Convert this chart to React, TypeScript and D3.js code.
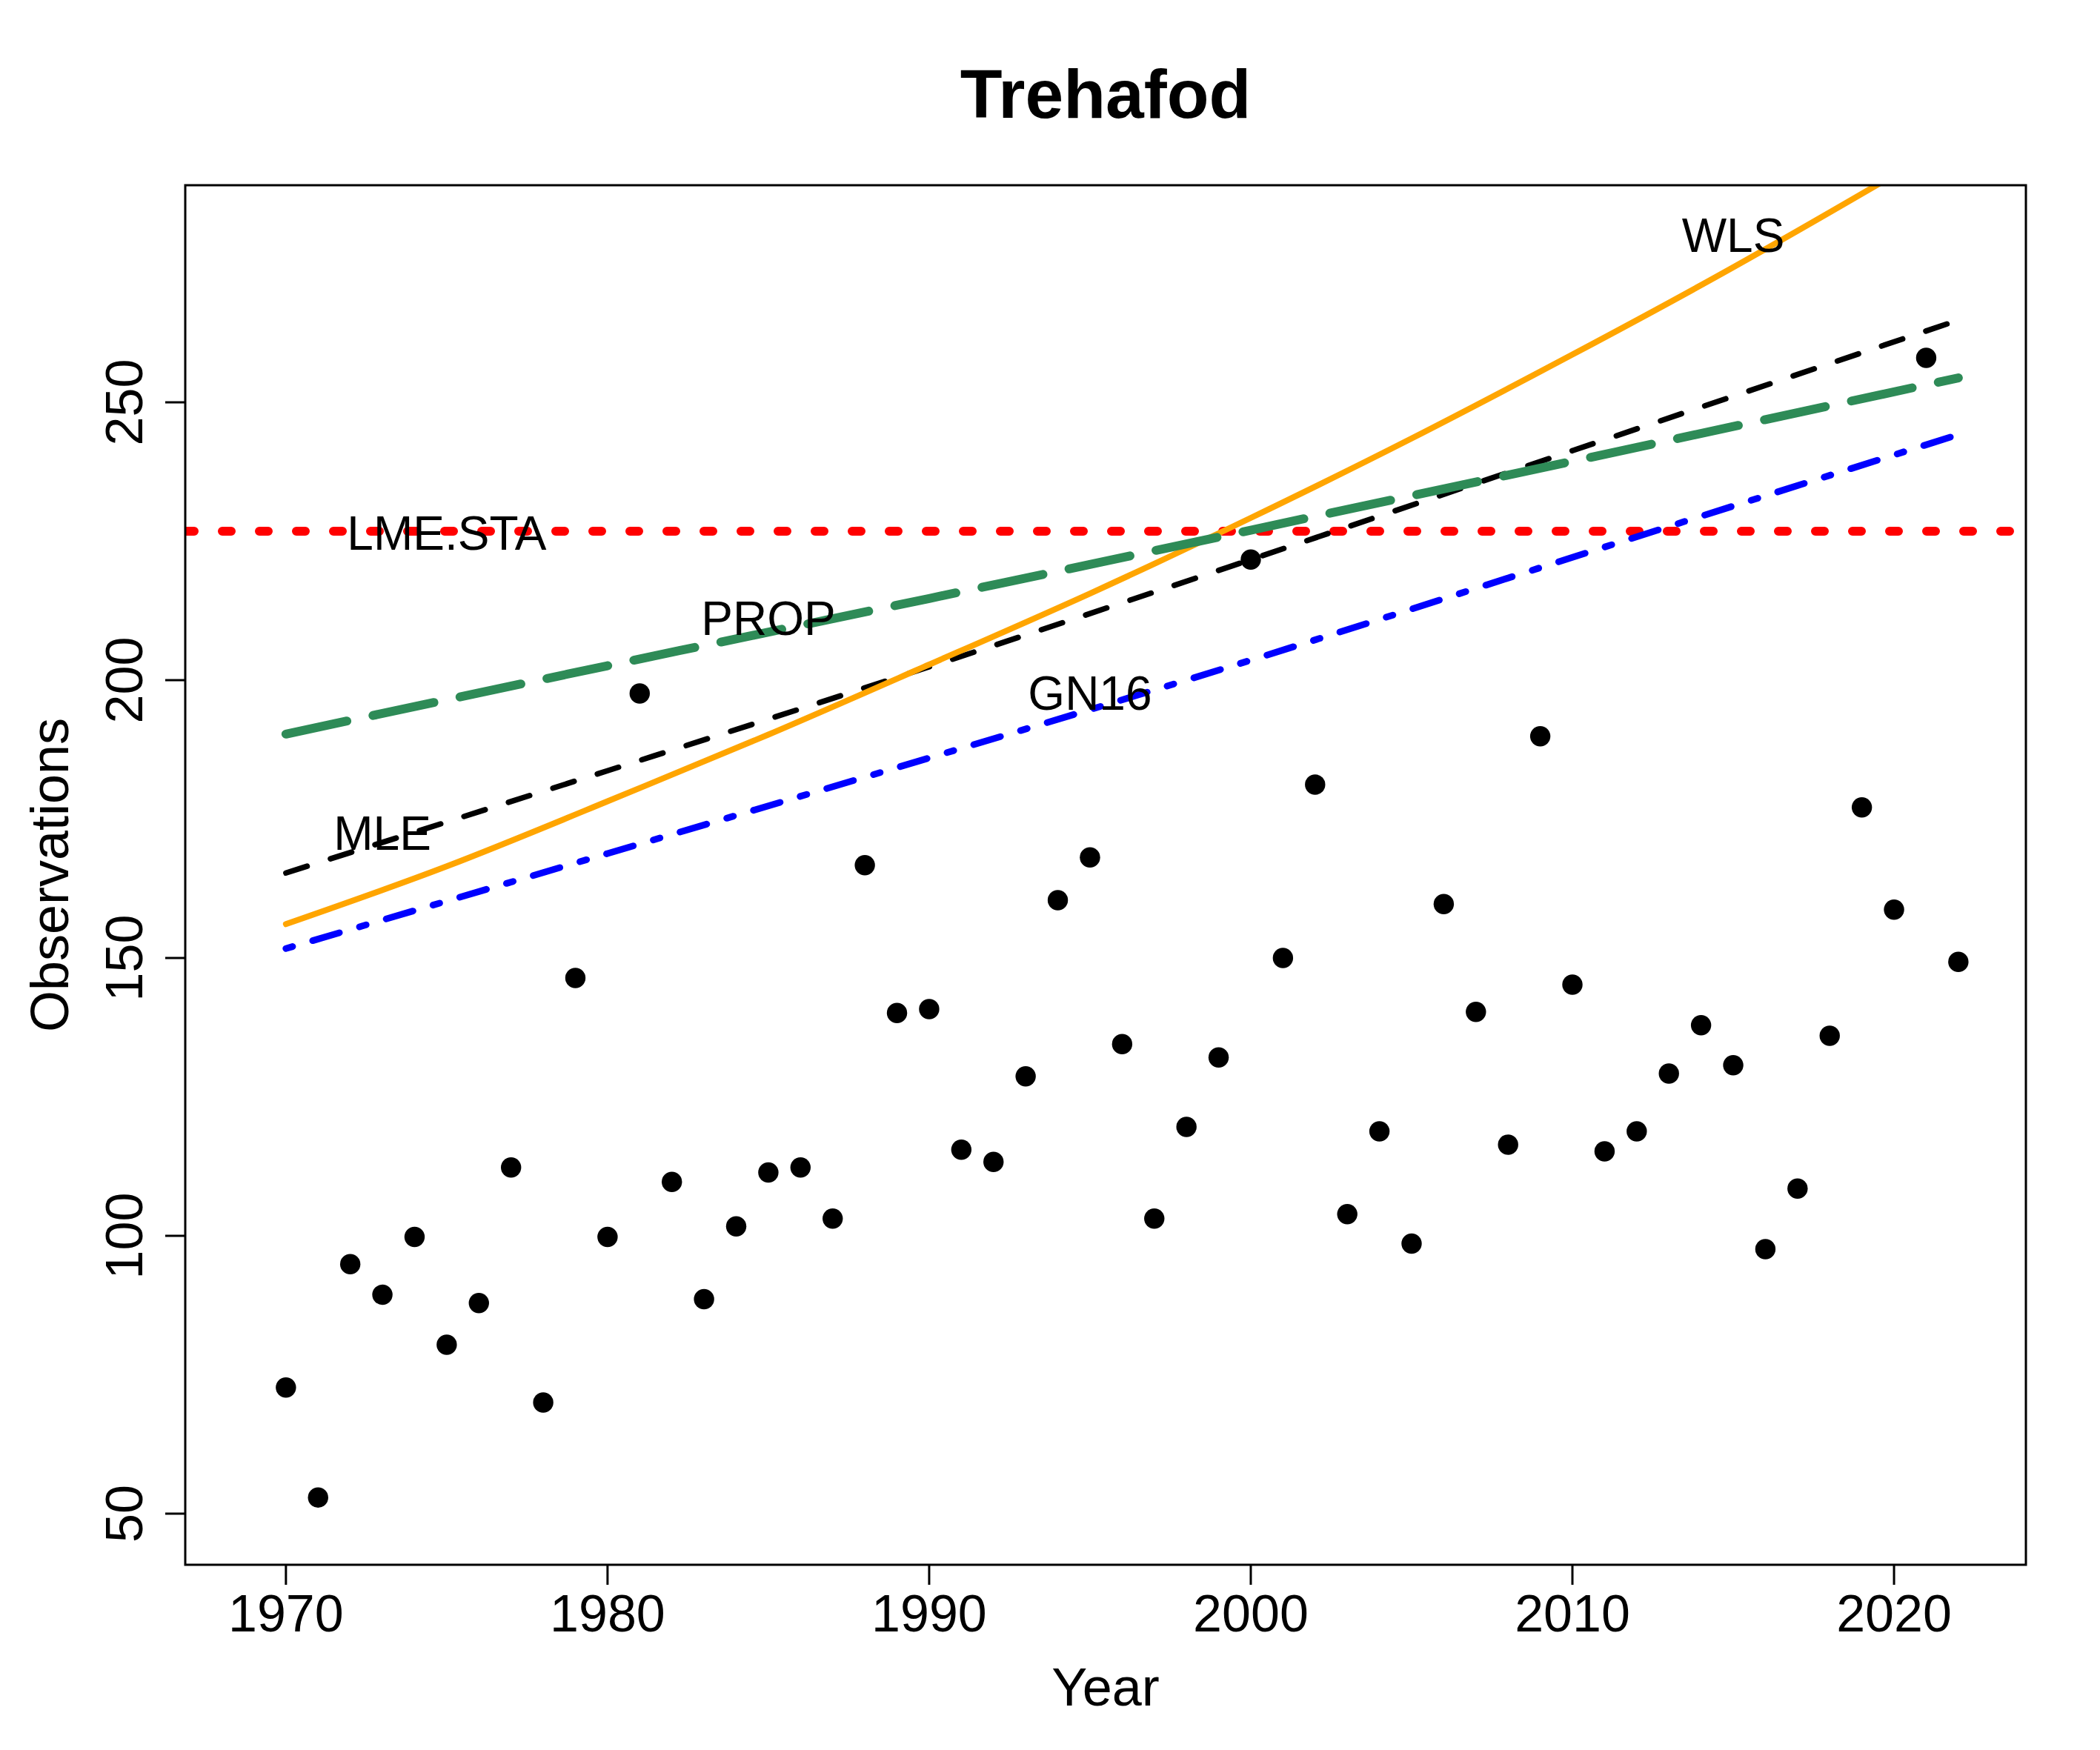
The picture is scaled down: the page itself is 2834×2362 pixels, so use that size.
import React from "react";
import * as d3 from "d3";

// annual maxima, 1970..2022
const years = d3.range(1970, 2023);
const observations = [
	72.7, 52.9, 94.9, 89.4, 99.8, 80.4, 87.9, 112.3, 70.0, 146.4,
	99.8, 197.6, 109.7, 88.6, 101.7, 111.4, 112.3, 103.1, 166.7, 140.1,
	140.8, 115.5, 113.3, 128.7, 160.4, 168.1, 134.5, 103.1, 119.6, 132.1,
	221.7, 150.0, 181.2, 103.9, 118.8, 98.6, 159.7, 140.3, 116.4, 189.9,
	145.2, 115.2, 118.8, 129.2, 137.9, 130.7, 97.6, 108.5, 136.0, 177.1,
	158.7, 258.0, 149.3,
];

// fitted curves
const fitYears = [1970, 1980, 1990, 2000, 2010, 2022];
const mleFit = [165.3, 183.7, 202.4, 221.7, 241.3, 264.8];
const propFit = [190.3, 202.6, 214.7, 227.0, 239.4, 254.4];
const gn16Fit = [151.7, 168.8, 186.0, 203.6, 222.1, 244.2];
const wlsYears = [1970, 1975, 1980, 1985, 1990, 1995, 2000, 2005, 2010, 2015, 2020, 2022];
const wlsFit = [156.1, 166.5, 178.2, 190.2, 202.8, 215.6, 229.2, 243.5, 258.6, 274.3, 290.9, 297.7];
const lmeSta = 226.8;

// text labels placed in the panel
const labelNames = ["LME.STA", "PROP", "GN16", "MLE", "WLS"];
const labelYears = [1975, 1985, 1995, 1973, 2015];
const labelValues = [226.5, 211.2, 197.7, 172.5, 280.1];

const xTicks = [1970, 1980, 1990, 2000, 2010, 2020];
const yTicks = [50, 100, 150, 200, 250];

const W = 2834;
const H = 2362;
const plot = { left: 250, right: 2734, top: 250, bottom: 2112 };
const FONT = "'Liberation Sans', Arial, Helvetica, sans-serif";

export default function App() {
	const x = d3.scaleLinear().domain([1966.87, 2024.1]).range([plot.left, plot.right]);
	const y = d3.scaleLinear().domain([40.8, 289.07]).range([plot.bottom, plot.top]);

	const curve = (xs: number[], ys: number[]) =>
		d3
			.line<number>()
			.x((_, i) => x(xs[i]))
			.y((d) => y(d))
			.curve(d3.curveNatural)(ys) ?? "";

	const tickLen = 27;

	return (
		<>
			<style>{`body{margin:0}`}</style>
			<svg width={W} height={H} viewBox={`0 0 ${W} ${H}`} style={{ display: "block", background: "#fff" }}>
				<defs>
					<clipPath id="plotclip">
						<rect x={plot.left} y={plot.top} width={plot.right - plot.left} height={plot.bottom - plot.top} />
					</clipPath>
				</defs>

				{/* title */}
				<text x={1492} y={159} textAnchor="middle" fontFamily={FONT} fontWeight="bold" fontSize={93}>
					Trehafod
				</text>

				{/* points */}
				<g clipPath="url(#plotclip)">
					{observations.map((v, i) => (
						<circle key={i} cx={x(years[i])} cy={y(v)} r={13.7} fill="#000" />
					))}
				</g>

				{/* fitted lines */}
				<g clipPath="url(#plotclip)" fill="none" strokeLinecap="round" strokeLinejoin="round">
					<line
						x1={plot.left}
						x2={plot.right}
						y1={y(lmeSta)}
						y2={y(lmeSta)}
						stroke="#FF0000"
						strokeWidth={12}
						strokeDasharray="12 38"
					/>
					<path d={curve(fitYears, mleFit)} stroke="#000" strokeWidth={7.5} strokeDasharray="30 33" />
					<path d={curve(wlsYears, wlsFit)} stroke="#FFA500" strokeWidth={8} />
					<path d={curve(fitYears, gn16Fit)} stroke="#0000FF" strokeWidth={9} strokeDasharray="9.4 28.2 37.6 28.2" />
					<path d={curve(fitYears, propFit)} stroke="#2E8B57" strokeWidth={12} strokeDasharray="84 36" />
				</g>

				{/* labels */}
				{labelNames.map((name, i) => (
					<text
						key={name}
						x={x(labelYears[i])}
						y={y(labelValues[i]) + 23}
						textAnchor="middle"
						fontFamily={FONT}
						fontSize={64}
					>
						{name}
					</text>
				))}

				{/* box */}
				<rect
					x={plot.left}
					y={plot.top}
					width={plot.right - plot.left}
					height={plot.bottom - plot.top}
					fill="none"
					stroke="#000"
					strokeWidth={3}
				/>

				{/* x axis */}
				{xTicks.map((t) => (
					<g key={t}>
						<line x1={x(t)} x2={x(t)} y1={plot.bottom} y2={plot.bottom + tickLen} stroke="#000" strokeWidth={3} />
						<text x={x(t)} y={2202} textAnchor="middle" fontFamily={FONT} fontSize={70}>
							{t}
						</text>
					</g>
				))}
				<text x={1492} y={2302} textAnchor="middle" fontFamily={FONT} fontSize={72}>
					Year
				</text>

				{/* y axis */}
				{yTicks.map((t) => (
					<g key={t}>
						<line x1={plot.left - tickLen} x2={plot.left} y1={y(t)} y2={y(t)} stroke="#000" strokeWidth={3} />
						<text
							transform={`translate(192,${y(t)}) rotate(-90)`}
							textAnchor="middle"
							fontFamily={FONT}
							fontSize={70}
						>
							{t}
						</text>
					</g>
				))}
				<text
					transform={`translate(92,${(plot.top + plot.bottom) / 2}) rotate(-90)`}
					textAnchor="middle"
					fontFamily={FONT}
					fontSize={72}
				>
					Observations
				</text>
			</svg>
		</>
	);
}
